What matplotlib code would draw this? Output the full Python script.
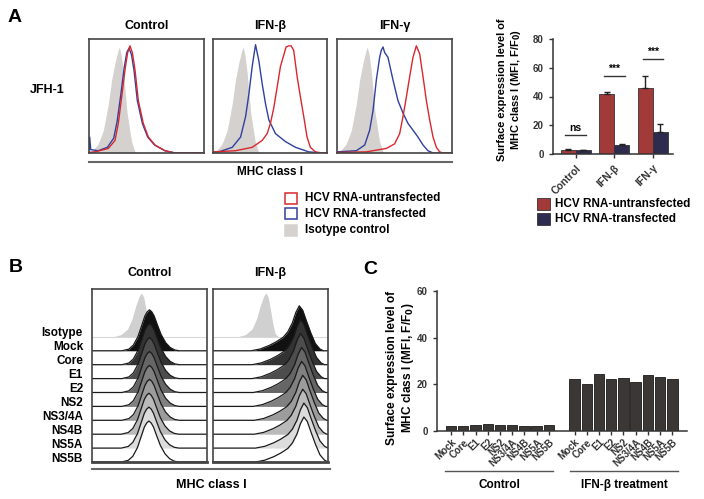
import numpy as np
import matplotlib.pyplot as plt
from matplotlib.lines import Line2D
from matplotlib.patches import Rectangle

plt.rcParams['font.family'] = ['Liberation Sans', 'DejaVu Sans']
plt.rcParams['font.weight'] = 'bold'
plt.rcParams['axes.labelweight'] = 'bold'

W, H = 704, 499

# ---- panel A: flow histograms (x = position across the box 0-100, y = % of max)
iso_x = [0, 4, 8, 12.5, 16.8, 19.7, 22.6, 25, 26.4, 28, 30, 33, 37, 40, 45, 100]
iso_y = [1, 3, 8, 20, 43, 64, 79, 89, 93, 86, 70, 36, 10, 1, 0, 0]

ctrl_blue_x = [0, 0.6, 1.5, 8, 16, 21.5, 24.5, 27.5, 30.5, 32.8, 34.8, 37, 39.2, 42, 46.4, 51, 57, 66, 75, 100]
ctrl_blue_y = [2, 14, 3, 2, 5, 13, 28, 50, 74, 88, 92, 86, 72, 46, 26, 14, 7, 2, 0, 0]
ctrl_red_x = [0, 5.2, 16.8, 22.6, 25.5, 28.4, 31.3, 33.6, 35.7, 37.7, 40, 42.9, 47.2, 51.6, 57.4, 66, 75, 100]
ctrl_red_y = [0.5, 1, 4, 11, 26, 49, 73, 88, 94, 88, 73, 46, 26, 14, 7, 2, 0, 0]

ifnb_blue_x = [0, 5.2, 16.9, 24.2, 28.6, 31.5, 34.4, 37.3, 40.2, 43.1, 46.1, 49, 54.8, 63.6, 72.3, 84, 95.6, 100]
ifnb_blue_y = [1, 1, 5, 14, 32, 52, 76, 95, 81, 61, 43, 29, 17, 10, 5, 1, 0, 0]
ifnb_red_x = [0, 19.8, 34.4, 43.1, 47.5, 50.4, 53.4, 56.3, 59.2, 62.1, 64.1, 66.5, 68.5, 70.8, 73.8, 76.7, 79.6, 82.5, 85.4, 89.8, 95.6, 100]
ifnb_red_y = [1, 2, 5, 11, 17, 26, 40, 58, 76, 86, 93, 94, 94, 90, 67, 49, 32, 14, 5, 1, 0, 0]

ifng_blue_x = [0, 16.8, 24.1, 28.4, 31.3, 34.2, 37.1, 38.5, 40, 41.5, 44.3, 48.7, 53, 57.4, 61.7, 66.1, 70.4, 74.8, 79.1, 83.5, 100]
ifng_blue_y = [1, 2, 7, 20, 37, 64, 84, 90, 93, 88, 84, 64, 46, 35, 26, 20, 14, 7, 2, 0, 0]
ifng_red_x = [0, 25.5, 42.9, 50.1, 54.5, 57.4, 60.3, 63.2, 66.1, 69, 71.9, 74.8, 77.7, 80.6, 83.5, 86.4, 89.3, 92, 100]
ifng_red_y = [0.5, 1, 4, 8, 17, 32, 49, 67, 84, 94, 87, 67, 46, 29, 14, 5, 1, 0, 0]

hist_titles = ['Control', 'IFN-β', 'IFN-γ']

# ---- panel A: bar chart
a_groups = ['Control', 'IFN-β', 'IFN-γ']
a_untrans = [2.8, 41.6, 46.0]
a_untrans_err = [0.5, 1.7, 8.0]
a_trans = [2.6, 6.5, 15.0]
a_trans_err = [0.3, 0.4, 5.7]
a_sig = ['ns', '***', '***']
a_sig_level = [13.3, 54, 66]

# ---- panel B: stacked histograms
b_rows = ['Isotype', 'Mock', 'Core', 'E1', 'E2', 'NS2', 'NS3/4A', 'NS4B', 'NS5A', 'NS5B']
b_iso_dx = [-25, -18, -12, -8, -5, -2, 0, 2, 4, 6, 8, 11]
b_iso_h = [0, 0.05, 0.18, 0.42, 0.7, 0.92, 1.0, 0.9, 0.62, 0.3, 0.08, 0]
b_iso_peak = [43, 46]
b_ctrl_dx = [-24, -18, -14, -10, -7, -4, -2, 0, 2, 4, 7, 10, 14, 18, 22, 26]
b_ctrl_h = [0, 0.04, 0.14, 0.35, 0.6, 0.85, 0.95, 1.0, 0.95, 0.85, 0.62, 0.4, 0.2, 0.08, 0.02, 0]
b_ctrl_peak = [50, 50, 50, 50, 50, 50, 49.5, 49.5, 49.5]
b_ifn_dx = [-42, -34, -26, -20, -14, -10, -6, -3, 0, 3, 6, 10, 14, 18, 21]
b_ifn_h = [0, 0.04, 0.12, 0.2, 0.3, 0.42, 0.62, 0.85, 1.0, 0.9, 0.68, 0.4, 0.16, 0.04, 0]
b_ifn_peak = [75, 76, 76, 77, 77, 78, 78, 79, 79]
b_fills = ['#111111', '#333333', '#4d4d4d', '#666666', '#808080', '#9c9c9c', '#bababa', '#dcdcdc', '#ffffff']

# ---- panel C
c_labels = ['Mock', 'Core', 'E1', 'E2', 'NS2', 'NS3/4A', 'NS4B', 'NS5A', 'NS5B']
c_control = [2.3, 2.3, 2.4, 2.9, 2.6, 2.4, 2.3, 2.3, 2.4]
c_ifn = [22.1, 20.3, 24.4, 22.1, 22.6, 20.9, 24.0, 23.1, 22.3]

red = '#a23a3a'
navy = '#2d2b4e'
hist_red = '#d8282e'
hist_blue = '#3040a0'
iso_col = '#d4d1cf'
frame = '#444444'

fig = plt.figure(figsize=(W / 100, H / 100), dpi=100)


def px_axes(l, t, r, b):
    return fig.add_axes([l / W, 1 - b / H, (r - l) / W, (b - t) / H])


def px_text(x, y, s, **kw):
    kw.setdefault('ha', 'center')
    kw.setdefault('va', 'center')
    fig.text(x / W, 1 - y / H, s, **kw)


def px_line(x0, x1, y, color='#666666', lw=1.5):
    fig.add_artist(Line2D([x0 / W, x1 / W], [1 - y / H, 1 - y / H], color=color, lw=lw))


def frame_axes(ax):
    ax.set_xticks([])
    ax.set_yticks([])
    for s in ax.spines.values():
        s.set_color(frame)
        s.set_linewidth(1.2)


# ---------- A histograms
hist_boxes = [(89, 39, 204, 153), (213, 39, 327, 153), (337, 39, 452, 153)]
hist_data = [(ctrl_blue_x, ctrl_blue_y, ctrl_red_x, ctrl_red_y),
             (ifnb_blue_x, ifnb_blue_y, ifnb_red_x, ifnb_red_y),
             (ifng_blue_x, ifng_blue_y, ifng_red_x, ifng_red_y)]
for box, (bx, by, rx, ry), title in zip(hist_boxes, hist_data, hist_titles):
    ax = px_axes(*box)
    ax.fill_between(iso_x, iso_y, color=iso_col, lw=0)
    ax.plot(bx, by, color=hist_blue, lw=1)
    ax.plot(rx, ry, color=hist_red, lw=1)
    ax.set_xlim(0, 100)
    ax.set_ylim(0, 100)
    frame_axes(ax)
    px_text((box[0] + box[2]) / 2, 26, title, fontsize=9)

px_text(15, 17, 'A', fontsize=14)
px_text(47, 90, 'JFH-1', fontsize=9)
px_line(89, 452, 162)
px_text(270, 172, 'MHC class I', fontsize=8.5)

leg_items = [('HCV RNA-untransfected', 'none', hist_red),
             ('HCV RNA-transfected', 'none', hist_blue),
             ('Isotype control', iso_col, iso_col)]
for i, (lab, fc, ec) in enumerate(leg_items):
    yc = 198 + i * 16
    fig.add_artist(Rectangle((285 / W, 1 - (yc + 5.5) / H), 12 / W, 11 / H,
                             facecolor=fc, edgecolor=ec, lw=1.1))
    px_text(305, yc, lab, fontsize=8.5, ha='left')

# ---------- A bar chart
ax = px_axes(553, 39, 673, 154)
x = np.arange(len(a_groups))
bw = 0.39
ax.bar(x - bw / 2, a_untrans, bw, color=red, edgecolor='#333333', lw=0.6,
       yerr=[np.zeros(3), a_untrans_err], error_kw=dict(lw=1, capsize=2.5, capthick=1, ecolor='#222222'))
ax.bar(x + bw / 2, a_trans, bw, color=navy, edgecolor='#333333', lw=0.6,
       yerr=[np.zeros(3), a_trans_err], error_kw=dict(lw=1, capsize=2.5, capthick=1, ecolor='#222222'))
for i, (s, lvl) in enumerate(zip(a_sig, a_sig_level)):
    ax.plot([i - 0.27, i + 0.27], [lvl, lvl], color='#333333', lw=1)
    ax.text(i, lvl + 1.5, s, ha='center', va='bottom', fontsize=7.5)
ax.set_xlim(-0.59, 2.52)
ax.set_ylim(0, 80)
ax.set_yticks([0, 20, 40, 60, 80])
ax.set_xticks(x)
ax.set_xticklabels(a_groups, rotation=45, ha='right', rotation_mode='anchor', fontsize=7.5)
ax.tick_params(axis='y', labelsize=7, length=3, width=1, colors='#333333')
ax.tick_params(axis='x', length=3, width=1, colors='#333333')
for lab in ax.get_yticklabels() + ax.get_xticklabels():
    lab.set_fontweight('bold')
ax.spines['top'].set_visible(False)
ax.spines['right'].set_visible(False)
for s in ['left', 'bottom']:
    ax.spines[s].set_linewidth(1.1)
    ax.spines[s].set_color('#333333')
px_text(510, 90, 'Surface expression level of\nMHC class I (MFI, F/F$_\\mathbf{0}$)',
        fontsize=7.9, rotation=90, linespacing=1.15)

for i, (lab, col) in enumerate([('HCV RNA-untransfected', red), ('HCV RNA-transfected', navy)]):
    yc = 204 + i * 15
    fig.add_artist(Rectangle((537 / W, 1 - (yc + 6) / H), 13 / W, 12 / H,
                             facecolor=col, edgecolor='#333333', lw=0.6))
    px_text(555, yc, lab, fontsize=8.5, ha='left')

# ---------- B stacked histograms
px_text(16, 268, 'B', fontsize=14)
b_boxes = [(92, 289, 207, 462), (213, 289, 328, 462)]
b_titles = ['Control', 'IFN-β']
profiles = [(b_ctrl_dx, b_ctrl_h, b_ctrl_peak, 41), (b_ifn_dx, b_ifn_h, b_ifn_peak, 45)]
step = 13.9
for k, (box, title, (dx, hh, peaks, ph)) in enumerate(zip(b_boxes, b_titles, profiles)):
    ax = px_axes(*box)
    base_iso = 9 * step
    ix = b_iso_peak[k] + np.array(b_iso_dx)
    iy = base_iso + 44 * np.array(b_iso_h)
    ax.fill_between(ix, base_iso, iy, color='#d0d0d0', lw=0, zorder=1)
    ax.plot([0, 100], [base_iso, base_iso], color='#d8d8d8', lw=0.8, zorder=1)
    for r in range(9):
        base = (8 - r) * step
        cx = np.concatenate([[0], peaks[r] + np.array(dx), [100]])
        cy = np.concatenate([[base], base + ph * np.array(hh), [base]])
        ax.fill_between(cx, base, cy, color=b_fills[r], lw=0, zorder=2 + 2 * r)
        ax.plot(cx, cy, color='#1a1a1a', lw=0.9, zorder=3 + 2 * r)
    ax.set_xlim(0, 100)
    ax.set_ylim(0, 173)
    frame_axes(ax)
    for s in ax.spines.values():
        s.set_zorder(40)
    ax.spines['bottom'].set_linewidth(2)
    px_text((box[0] + box[2]) / 2, 273, title, fontsize=9)

for i, lab in enumerate(b_rows):
    px_text(83, 333 + i * 14, lab, fontsize=8.5, ha='right')
px_line(92, 330, 469)
px_text(211, 485, 'MHC class I', fontsize=9)

# ---------- C bar chart
px_text(370, 270, 'C', fontsize=14)
ax = px_axes(437, 291, 687, 431)
pos_c = np.arange(len(c_labels))
pos_i = pos_c + 10.1
ax.bar(pos_c, c_control, 0.85, color='#3b3734', edgecolor='#1a1a1a', lw=0.6)
ax.bar(pos_i, c_ifn, 0.85, color='#3b3734', edgecolor='#1a1a1a', lw=0.6)
ax.set_xlim(-1.15, 19.3)
ax.set_ylim(0, 60)
ax.set_yticks([0, 20, 40, 60])
ax.set_xticks(np.concatenate([pos_c, pos_i]))
ax.set_xticklabels(c_labels + c_labels, rotation=45, ha='right', rotation_mode='anchor', fontsize=7)
ax.tick_params(axis='y', labelsize=7, length=3, width=1, colors='#333333')
ax.tick_params(axis='x', length=3, width=1, colors='#333333', pad=1.5)
for lab in ax.get_yticklabels() + ax.get_xticklabels():
    lab.set_fontweight('bold')
ax.spines['top'].set_visible(False)
ax.spines['right'].set_visible(False)
for s in ['left', 'bottom']:
    ax.spines[s].set_linewidth(1.1)
    ax.spines[s].set_color('#333333')
px_text(401, 368, 'Surface expression level of\nMHC class I (MFI, F/F$_\\mathbf{0}$)',
        fontsize=8.6, rotation=90, linespacing=1.15)
px_line(445, 553, 471, color='#555555', lw=1)
px_line(570, 678, 471, color='#555555', lw=1)
px_text(499, 485, 'Control', fontsize=8.5)
px_text(624, 485, 'IFN-β treatment', fontsize=8.5)

fig.savefig('out.png', dpi=100, facecolor='white')
